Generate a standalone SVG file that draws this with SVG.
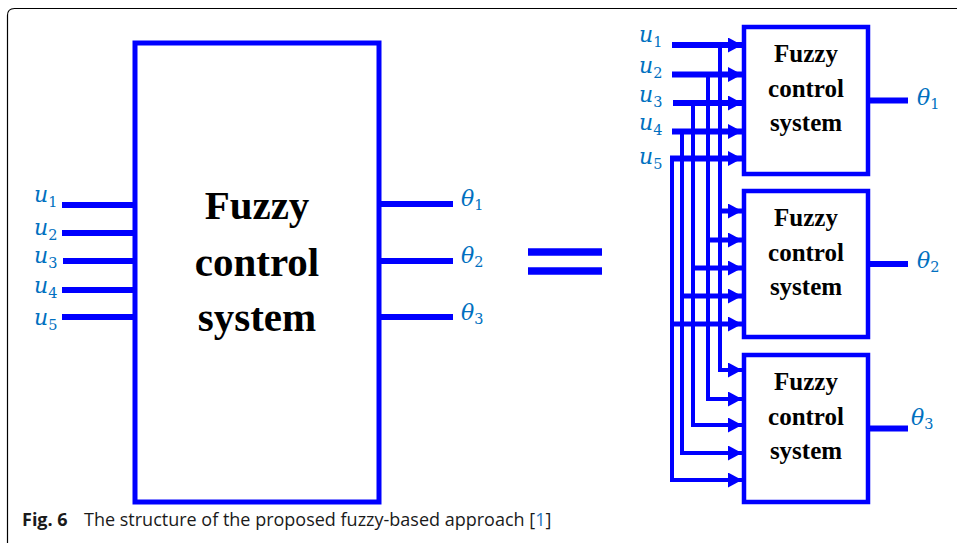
<svg xmlns="http://www.w3.org/2000/svg" width="957" height="543" viewBox="0 0 957 543">
  <defs>
    <style>
      .wire{fill:none;stroke:#0000FF;stroke-linecap:butt;stroke-linejoin:miter}
      .box{fill:#FFFFFF;stroke:#0000FF}
      .lbl{font-family:"DejaVu Serif","Liberation Serif",serif;font-style:italic;font-size:22px;fill:#0070C0}
      .sub{font-style:normal;font-size:14.5px}
      .bt{font-family:"Liberation Serif","Times New Roman",serif;font-weight:bold;fill:#000000;text-anchor:middle}
      .cap{font-family:"Open Sans","Noto Sans",sans-serif;font-size:18px;fill:#1A1A1A}
    </style>
    <marker id="arr" markerUnits="userSpaceOnUse" markerWidth="15" markerHeight="16" refX="14" refY="7.5" orient="auto">
      <path d="M0,0 L14,7.5 L0,15 z" fill="#0000FF"/>
    </marker>
  </defs>

  <!-- figure frame (open to the right and bottom) -->
  <path d="M7.5,543 V15.5 Q7.5,8.5 14.5,8.5 H957" fill="none" stroke="#000000" stroke-width="1.2"/>

  <!-- single large controller -->
  <g id="fcs-main">
    <rect class="box" x="135" y="43" width="244" height="459" stroke-width="5"/>
    <text class="bt" font-size="41" x="257" y="219">Fuzzy</text>
    <text class="bt" font-size="41" x="257" y="276">control</text>
    <text class="bt" font-size="41" x="257" y="331">system</text>
  </g>

  <!-- three single-output controllers -->
  <g id="fcs-1">
    <rect class="box" x="744" y="27" width="124" height="147" stroke-width="4.5"/>
    <text class="bt" font-size="25" x="806" y="62">Fuzzy</text>
    <text class="bt" font-size="25" x="806" y="97">control</text>
    <text class="bt" font-size="25" x="806" y="131">system</text>
  </g>
  <g id="fcs-2">
    <rect class="box" x="744" y="191" width="124" height="146" stroke-width="4.5"/>
    <text class="bt" font-size="25" x="806" y="226">Fuzzy</text>
    <text class="bt" font-size="25" x="806" y="261">control</text>
    <text class="bt" font-size="25" x="806" y="295">system</text>
  </g>
  <g id="fcs-3">
    <rect class="box" x="744" y="355" width="124" height="147" stroke-width="4.5"/>
    <text class="bt" font-size="25" x="806" y="390">Fuzzy</text>
    <text class="bt" font-size="25" x="806" y="425">control</text>
    <text class="bt" font-size="25" x="806" y="459">system</text>
  </g>

  <!-- equivalence sign -->
  <g id="equals">
    <line class="wire" x1="528" y1="252" x2="602" y2="252" stroke-width="7.5"/>
    <line class="wire" x1="528" y1="271" x2="602" y2="271" stroke-width="7.5"/>
  </g>

  <g id="connectors">
    <!-- inputs and outputs of the large controller -->
    <g stroke-width="6">
      <line class="wire" x1="62" y1="205" x2="135" y2="205"/>
      <line class="wire" x1="62" y1="233" x2="135" y2="233"/>
      <line class="wire" x1="63" y1="261" x2="135" y2="261"/>
      <line class="wire" x1="62" y1="290" x2="135" y2="290"/>
      <line class="wire" x1="62" y1="317" x2="135" y2="317"/>
      <line class="wire" x1="379" y1="204" x2="453" y2="204"/>
      <line class="wire" x1="379" y1="261" x2="453" y2="261"/>
      <line class="wire" x1="379" y1="317" x2="453" y2="317"/>
    </g>

    <!-- inputs into the first controller -->
    <g stroke-width="6">
      <line class="wire" x1="672" y1="45" x2="742" y2="45" marker-end="url(#arr)"/>
      <line class="wire" x1="672" y1="74.5" x2="742" y2="74.5" marker-end="url(#arr)"/>
      <line class="wire" x1="673" y1="103" x2="742" y2="103" marker-end="url(#arr)"/>
      <line class="wire" x1="672" y1="131.5" x2="742" y2="131.5" marker-end="url(#arr)"/>
      <line class="wire" x1="670" y1="158.5" x2="742" y2="158.5" marker-end="url(#arr)"/>
    </g>

    <!-- bus lines running down to the third controller -->
    <g stroke-width="4">
      <path class="wire" d="M720,45 V370 H742" marker-end="url(#arr)"/>
      <path class="wire" d="M708,74.5 V399 H742" marker-end="url(#arr)"/>
      <path class="wire" d="M693,103 V425 H742" marker-end="url(#arr)"/>
      <path class="wire" d="M682,131.5 V453 H742" marker-end="url(#arr)"/>
      <path class="wire" d="M672,158.5 V480 H742" marker-end="url(#arr)"/>
    </g>

    <!-- taps into the second controller -->
    <g stroke-width="5">
      <line class="wire" x1="720" y1="211" x2="742" y2="211" marker-end="url(#arr)"/>
      <line class="wire" x1="708" y1="240" x2="742" y2="240" marker-end="url(#arr)"/>
      <line class="wire" x1="693" y1="268" x2="742" y2="268" marker-end="url(#arr)"/>
      <line class="wire" x1="682" y1="296" x2="742" y2="296" marker-end="url(#arr)"/>
      <line class="wire" x1="672" y1="324" x2="742" y2="324" marker-end="url(#arr)"/>
    </g>

    <!-- outputs of the three controllers -->
    <g stroke-width="6">
      <line class="wire" x1="868" y1="100.5" x2="908" y2="100.5"/>
      <line class="wire" x1="868" y1="264" x2="908" y2="264"/>
      <line class="wire" x1="868" y1="428.5" x2="908" y2="428.5"/>
    </g>
  </g>

  <!-- signal names -->
  <g id="labels">
    <text class="lbl" x="34" y="202">u<tspan class="sub" dy="5">1</tspan></text>
    <text class="lbl" x="34" y="235">u<tspan class="sub" dy="5">2</tspan></text>
    <text class="lbl" x="34" y="263">u<tspan class="sub" dy="5">3</tspan></text>
    <text class="lbl" x="34" y="293">u<tspan class="sub" dy="5">4</tspan></text>
    <text class="lbl" x="34" y="325">u<tspan class="sub" dy="5">5</tspan></text>

    <text class="lbl" x="461" y="206">θ<tspan class="sub" dy="4">1</tspan></text>
    <text class="lbl" x="461" y="263">θ<tspan class="sub" dy="4">2</tspan></text>
    <text class="lbl" x="461" y="320">θ<tspan class="sub" dy="4">3</tspan></text>

    <text class="lbl" x="639" y="42">u<tspan class="sub" dy="5">1</tspan></text>
    <text class="lbl" x="639" y="73">u<tspan class="sub" dy="5">2</tspan></text>
    <text class="lbl" x="639" y="101.5">u<tspan class="sub" dy="5">3</tspan></text>
    <text class="lbl" x="639" y="130">u<tspan class="sub" dy="5">4</tspan></text>
    <text class="lbl" x="639" y="164">u<tspan class="sub" dy="5">5</tspan></text>

    <text class="lbl" x="917" y="105">θ<tspan class="sub" dy="4">1</tspan></text>
    <text class="lbl" x="917" y="268">θ<tspan class="sub" dy="4">2</tspan></text>
    <text class="lbl" x="911" y="425">θ<tspan class="sub" dy="4">3</tspan></text>
  </g>

  <!-- caption -->
  <g id="caption">
    <text class="cap" x="22" y="526" font-weight="bold" fill="#111111">Fig. 6</text>
    <text class="cap" x="84" y="526">The structure of the proposed fuzzy-based approach [<tspan fill="#1F77C0">1</tspan>]</text>
  </g>
</svg>
